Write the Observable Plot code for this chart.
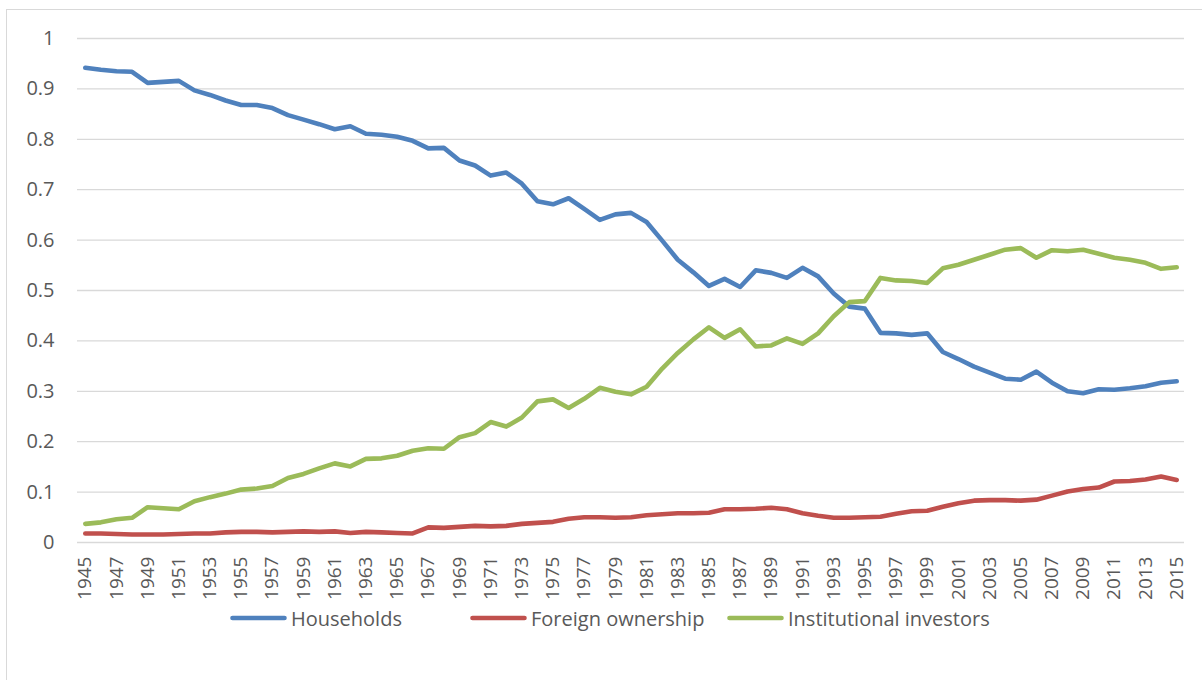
<!DOCTYPE html>
<html>
<head>
<meta charset="utf-8">
<script src="https://cdn.jsdelivr.net/npm/d3@7"></script>
<script src="https://cdn.jsdelivr.net/npm/@observablehq/plot@0.6"></script>
<style>
  html, body { margin: 0; padding: 0; background: #fff; }
  #frame { position: absolute; left: 6px; top: 9px; width: 1210px; height: 690px; border: 1px solid #d9d9d9; box-sizing: border-box; }
  #chart { position: absolute; left: 0; top: 0; }
  #legend { position: absolute; left: 0; top: 604px; width: 1202px; height: 28px; font-family: "Open Sans", sans-serif; font-size: 20px; color: #595959; }
  .item { position: absolute; top: 0; display: flex; align-items: center; height: 28px; white-space: nowrap; }
  .item svg { margin-right: 4px; }
</style>
</head>
<body>
<div id="frame"></div>
<div id="chart"></div>
<div id="legend"></div>
<script>
const years = d3.range(1945, 2016);
const seriesNames = ["Households", "Foreign ownership", "Institutional investors"];
const seriesColors = ["#4f81bd", "#c0504d", "#9bbb59"];

const households = [
  0.942, 0.938, 0.935, 0.934, 0.912, 0.914, 0.916, 0.897, 0.888, 0.877,
  0.868, 0.868, 0.862, 0.848, 0.839, 0.830, 0.820, 0.826, 0.811, 0.809,
  0.805, 0.797, 0.782, 0.783, 0.758, 0.748, 0.728, 0.734, 0.712, 0.677,
  0.671, 0.683, 0.662, 0.640, 0.651, 0.654, 0.636, 0.599, 0.561, 0.536,
  0.509, 0.523, 0.507, 0.540, 0.535, 0.525, 0.545, 0.528, 0.494, 0.468,
  0.464, 0.416, 0.415, 0.412, 0.415, 0.378, 0.364, 0.349, 0.337, 0.325,
  0.323, 0.339, 0.317, 0.300, 0.296, 0.304, 0.303, 0.306, 0.310, 0.317,
  0.320
];
const foreign = [
  0.018, 0.018, 0.017, 0.016, 0.016, 0.016, 0.017, 0.018, 0.018, 0.020,
  0.021, 0.021, 0.020, 0.021, 0.022, 0.021, 0.022, 0.019, 0.021, 0.020,
  0.019, 0.018, 0.030, 0.029, 0.031, 0.033, 0.032, 0.033, 0.037, 0.039,
  0.041, 0.047, 0.050, 0.050, 0.049, 0.050, 0.054, 0.056, 0.058, 0.058,
  0.059, 0.066, 0.066, 0.067, 0.069, 0.066, 0.058, 0.053, 0.049, 0.049,
  0.050, 0.051, 0.057, 0.062, 0.063, 0.071, 0.078, 0.083, 0.084, 0.084,
  0.083, 0.085, 0.093, 0.101, 0.106, 0.109, 0.121, 0.122, 0.125, 0.131,
  0.124
];
const institutional = [
  0.037, 0.040, 0.046, 0.049, 0.070, 0.068, 0.066, 0.082, 0.090, 0.097,
  0.105, 0.107, 0.112, 0.128, 0.136, 0.147, 0.157, 0.151, 0.166, 0.167,
  0.172, 0.182, 0.187, 0.186, 0.209, 0.217, 0.239, 0.230, 0.248, 0.280,
  0.284, 0.267, 0.285, 0.307, 0.299, 0.294, 0.309, 0.345, 0.376, 0.403,
  0.427, 0.406, 0.423, 0.389, 0.391, 0.405, 0.394, 0.415, 0.449, 0.477,
  0.479, 0.525, 0.520, 0.519, 0.515, 0.544, 0.551, 0.561, 0.571, 0.581,
  0.584, 0.565, 0.580, 0.578, 0.581, 0.573, 0.565, 0.561, 0.555, 0.543,
  0.546
];
const yTicks = d3.range(0, 11).map(i => i / 10);
const xTickYears = years.filter(y => y % 2 === 1);

const allValues = [households, foreign, institutional];
const rows = [];
seriesNames.forEach((name, s) => {
  years.forEach((yr, i) => rows.push({ series: name, year: yr, value: allValues[s][i] }));
});

const chart = Plot.plot({
  width: 1202,
  height: 612,
  marginLeft: 77,
  marginRight: 18,
  marginTop: 38,
  marginBottom: 70,
  style: { fontFamily: "'Open Sans', sans-serif", fontSize: "20px", color: "#595959", background: "transparent" },
  x: { type: "point", domain: years, padding: 0.5, align: 0.5 },
  y: { domain: [0, 1] },
  color: { domain: seriesNames, range: seriesColors },
  marks: [
    Plot.ruleY(yTicks, { stroke: "#d9d9d9", strokeWidth: 1.3 }),
    Plot.axisY(yTicks, { tickSize: 0, tickPadding: 23, tickFormat: d => String(+d.toFixed(1)), fill: "#595959", fontSize: 20, label: null }),
    Plot.axisX(xTickYears, { tickSize: 0, tickRotate: -90, tickPadding: 14, tickFormat: d => String(d), fill: "#595959", fontSize: 19, label: null }),
    Plot.line(rows, { x: "year", y: "value", z: "series", stroke: "series", strokeWidth: 4.6, strokeLinejoin: "round", strokeLinecap: "round" })
  ]
});
document.getElementById("chart").appendChild(chart);

const legendPos = [230, 470, 727];
const legend = document.getElementById("legend");
seriesNames.forEach((name, i) => {
  const d = document.createElement("div");
  d.className = "item";
  d.style.left = legendPos[i] + "px";
  d.innerHTML = `<svg width="57" height="10"><line x1="2.5" y1="5" x2="54.5" y2="5" stroke="${seriesColors[i]}" stroke-width="4.6" stroke-linecap="round"/></svg><span>${name}</span>`;
  legend.appendChild(d);
});
</script>
</body>
</html>
